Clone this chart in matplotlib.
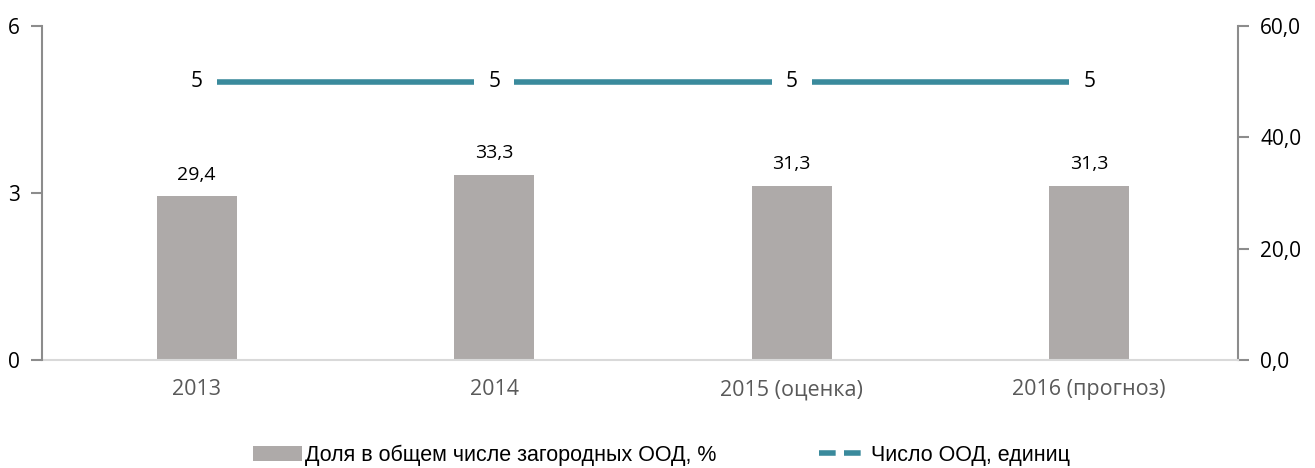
import matplotlib.pyplot as plt
from matplotlib.patches import Patch
from matplotlib.lines import Line2D

years = ["2013", "2014", "2015 (оценка)", "2016 (прогноз)"]
share = [29.4, 33.3, 31.3, 31.3]          # % (right axis)
count = [5, 5, 5, 5]                      # units (left axis)
share_labels = ["29,4", "33,3", "31,3", "31,3"]

bar_color = "#AEAAA9"
line_color = "#3A8A9C"
spine_color = "#8C8C8C"

fig = plt.figure(figsize=(13.15, 4.68), dpi=100)
ax2 = fig.add_axes([42 / 1315, 108 / 468, 1196 / 1315, 334 / 468])
ax = ax2.twinx()
ax.yaxis.tick_left()
ax2.yaxis.tick_right()
ax.set_zorder(3)
ax.patch.set_visible(False)

x = range(len(years))
# bars on the right axis (0-60 %)
ax2.bar(x, share, width=0.27, color=bar_color)
for i, v in enumerate(share):
    ax2.text(i, v + 2.3, share_labels[i], ha="center", va="bottom",
             fontsize=14, family="Open Sans", color="black")
ax2.set_ylim(0, 60)
ax2.set_yticks([0, 20, 40, 60])
ax2.set_yticklabels(["0,0", "20,0", "40,0", "60,0"])
ax2.set_xlim(-0.52, 3.50)

# line on the left axis (0-6)
ax.plot(x, count, color=line_color, lw=4, solid_capstyle="butt")
for i, v in enumerate(count):
    ax.text(i, v, str(v), ha="center", va="center", fontsize=15,
            family="Open Sans", color="black",
            bbox=dict(facecolor="white", edgecolor="none", pad=10))
ax.set_ylim(0, 6)
ax.set_yticks([0, 3, 6])

for a in (ax, ax2):
    for s in a.spines.values():
        s.set_visible(False)
ax.spines["left"].set_visible(True)
ax.spines["left"].set_color(spine_color)
ax.spines["left"].set_linewidth(1.5)
ax2.spines["right"].set_visible(True)
ax2.spines["right"].set_color(spine_color)
ax2.spines["right"].set_linewidth(1.5)
ax2.spines["bottom"].set_visible(True)
ax2.spines["bottom"].set_color("#D9D9D9")
ax2.spines["bottom"].set_linewidth(1.5)

ax.tick_params(axis="y", length=8, width=1.5, color=spine_color, labelsize=15, pad=8)
ax2.tick_params(axis="y", length=8, width=1.5, color=spine_color, labelsize=15, pad=8)
for lab in ax.get_yticklabels() + ax2.get_yticklabels():
    lab.set_family("Open Sans")

ax2.set_xticks(list(x))
ax2.set_xticklabels(years, fontsize=15.5, color="#595959", family="Open Sans")
ax2.tick_params(axis="x", length=0, pad=14)

handles = [Patch(facecolor=bar_color, edgecolor="none"),
           Line2D([0], [0], color=line_color, lw=4, dashes=(3, 1.5))]
fig.legend(handles, ["Доля в общем числе загородных ООД, %", "Число ООД, единиц"],
           loc="center", bbox_to_anchor=(0.503, 0.027), ncol=2, frameon=False,
           prop={"family": "Liberation Sans", "size": 15.5},
           handlelength=2.3, handletextpad=0.1, columnspacing=4.8)

fig.savefig("out.png", dpi=100)
